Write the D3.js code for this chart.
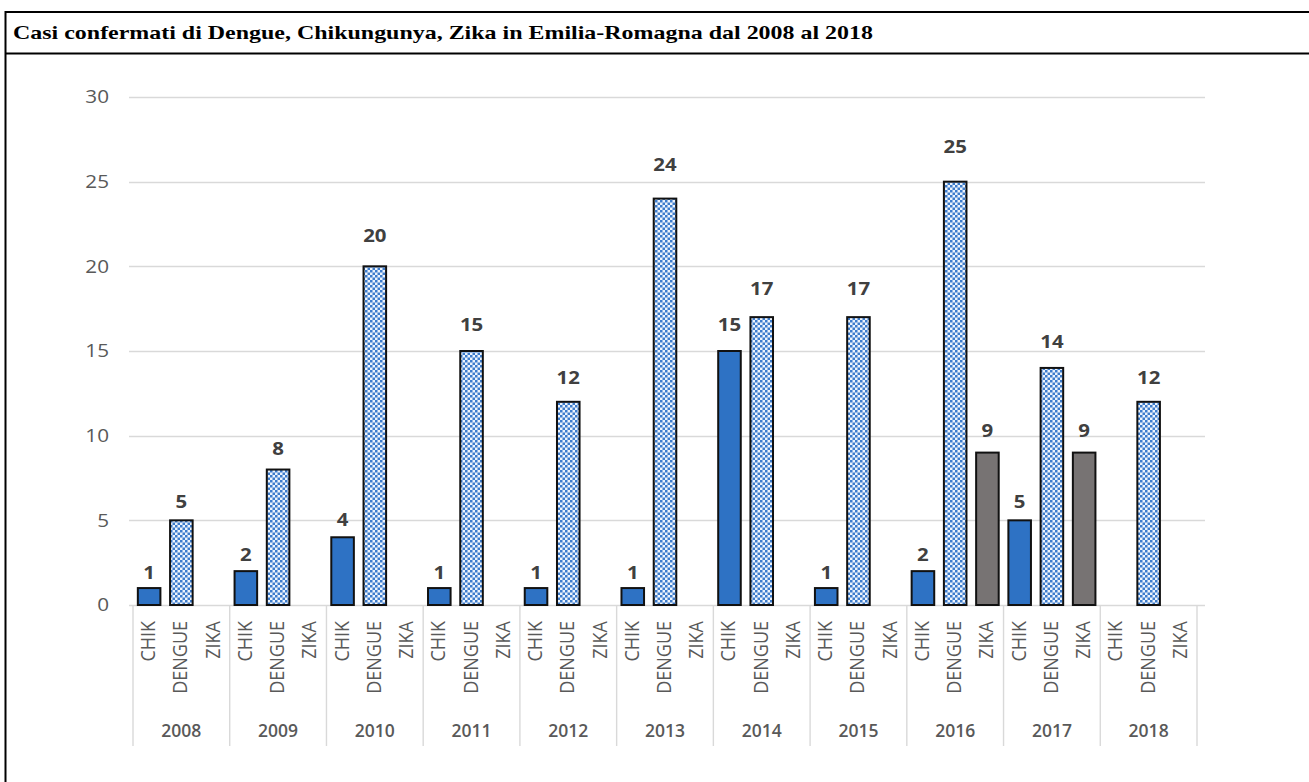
<!DOCTYPE html>
<html>
<head>
<meta charset="utf-8">
<script src="https://cdn.jsdelivr.net/npm/d3@7"></script>
<style>
  html, body { margin: 0; padding: 0; background: #fff; }
  svg { display: block; }
</style>
</head>
<body>
<svg id="chart" width="1309" height="782"></svg>
<script>
// Confirmed cases per year and disease (null = no cases reported)
const years = ["2008","2009","2010","2011","2012","2013","2014","2015","2016","2017","2018"];
const diseases = ["CHIK","DENGUE","ZIKA"];
const chik   = [1, 2, 4, 1, 1, 1, 15, 1, 2, 5, null];
const dengue = [5, 8, 20, 15, 12, 24, 17, 17, 25, 14, 12];
const zika   = [null, null, null, null, null, null, null, null, 9, 9, null];
const yTicks = [0, 5, 10, 15, 20, 25, 30];
const title = "Casi confermati di Dengue, Chikungunya, Zika in Emilia-Romagna dal 2008 al 2018";

const seriesByDisease = { CHIK: chik, DENGUE: dengue, ZIKA: zika };

const svg = d3.select("#chart");
const defs = svg.append("defs");

// Checkered fill for dengue bars
const pat = defs.append("pattern")
  .attr("id", "checker")
  .attr("patternUnits", "userSpaceOnUse")
  .attr("width", 5).attr("height", 5);
pat.append("rect").attr("width", 5).attr("height", 5).attr("fill", "#eef4fc");
pat.append("rect").attr("x", 0).attr("y", 0).attr("width", 2.5).attr("height", 2.5).attr("fill", "#3d7ccc");
pat.append("rect").attr("x", 2.5).attr("y", 2.5).attr("width", 2.5).attr("height", 2.5).attr("fill", "#3d7ccc");

// Frame and title
svg.append("line").attr("x1", 5.5).attr("x2", 5.5).attr("y1", 11).attr("y2", 782)
  .attr("stroke", "#000").attr("stroke-width", 2);
svg.append("line").attr("x1", 5).attr("x2", 1309).attr("y1", 12).attr("y2", 12)
  .attr("stroke", "#000").attr("stroke-width", 2);
svg.append("line").attr("x1", 5).attr("x2", 1309).attr("y1", 53.5).attr("y2", 53.5)
  .attr("stroke", "#000").attr("stroke-width", 2);
svg.append("text").attr("x", 13).attr("y", 39)
  .attr("font-family", "'Liberation Serif', 'Times New Roman', serif")
  .attr("font-weight", "bold").attr("font-size", 19.5).attr("fill", "#000")
  .attr("textLength", 860).attr("lengthAdjust", "spacingAndGlyphs")
  .text(title);

// Scales
const plotLeft = 133, plotRight = 1197, gridLeft = 129, gridRight = 1205;
const y = d3.scaleLinear().domain([0, 30]).range([605, 97]);
// anchor scale for the value labels above the bars
const yLabel = d3.scaleLinear().domain([0, 30]).range([597, 64]);
const x0 = d3.scaleBand().domain(years).range([plotLeft, plotRight]).padding(0);
const x1 = d3.scaleBand().domain(diseases).range([0, x0.bandwidth()]).paddingInner(0.3).paddingOuter(0.15);

const labelFont = "'Open Sans', 'Liberation Sans', sans-serif";

// Gridlines
svg.append("g").selectAll("line").data(yTicks).join("line")
  .attr("x1", gridLeft).attr("x2", gridRight)
  .attr("y1", d => Math.round(y(d)) + 0.5).attr("y2", d => Math.round(y(d)) + 0.5)
  .attr("stroke", "#d9d9d9").attr("stroke-width", 1.4);

// Y axis labels (slightly widened glyphs)
svg.append("g").selectAll("text").data(yTicks).join("text")
  .attr("transform", d => `translate(109,${y(d)}) scale(1.15,1)`)
  .attr("dy", "0.35em")
  .attr("text-anchor", "end")
  .attr("font-family", labelFont).attr("font-size", 18).attr("fill", "#595959")
  .text(d => d);

// Group separators for the category axis
const seps = years.map(yr => x0(yr)).concat([plotRight]);
svg.append("g").selectAll("line").data(seps).join("line")
  .attr("x1", d => d).attr("x2", d => d).attr("y1", 605).attr("y2", 746)
  .attr("stroke", "#d9d9d9").attr("stroke-width", 1.4);

// Bars
const flat = [];
years.forEach((yr, i) => diseases.forEach(dz => {
  flat.push({ year: yr, disease: dz, value: seriesByDisease[dz][i] });
}));

const fills = { CHIK: "#2e72c4", DENGUE: "url(#checker)", ZIKA: "#777373" };

const bars = flat.filter(d => d.value != null && d.value > 0);
svg.append("g").selectAll("rect").data(bars).join("rect")
  .attr("x", d => x0(d.year) + x1(d.disease))
  .attr("y", d => y(d.value))
  .attr("width", x1.bandwidth())
  .attr("height", d => y(0) - y(d.value))
  .attr("fill", d => fills[d.disease])
  .attr("stroke", "#111").attr("stroke-width", 2);

// Value labels
svg.append("g").selectAll("text").data(bars).join("text")
  .attr("transform", d => `translate(${x0(d.year) + x1(d.disease) + x1.bandwidth() / 2},${yLabel(d.value)}) scale(1.2,1)`)
  .attr("text-anchor", "middle")
  .attr("font-family", labelFont).attr("font-weight", "bold")
  .attr("font-size", 17).attr("fill", "#404040")
  .text(d => d.value);

// Disease labels (rotated)
svg.append("g").selectAll("text").data(flat).join("text")
  .attr("transform", d => `translate(${x0(d.year) + x1(d.disease) + x1.bandwidth() / 2 + 6},621) scale(1.15,1) rotate(-90)`)
  .attr("text-anchor", "end")
  .attr("font-family", labelFont).attr("font-size", 18).attr("fill", "#595959")
  .text(d => d.disease);

// Year labels
svg.append("g").selectAll("text").data(years).join("text")
  .attr("x", d => x0(d) + x0.bandwidth() / 2)
  .attr("y", 737)
  .attr("text-anchor", "middle")
  .attr("font-family", labelFont).attr("font-weight", 600)
  .attr("font-size", 17.5).attr("fill", "#595959")
  .text(d => d);
</script>
</body>
</html>
